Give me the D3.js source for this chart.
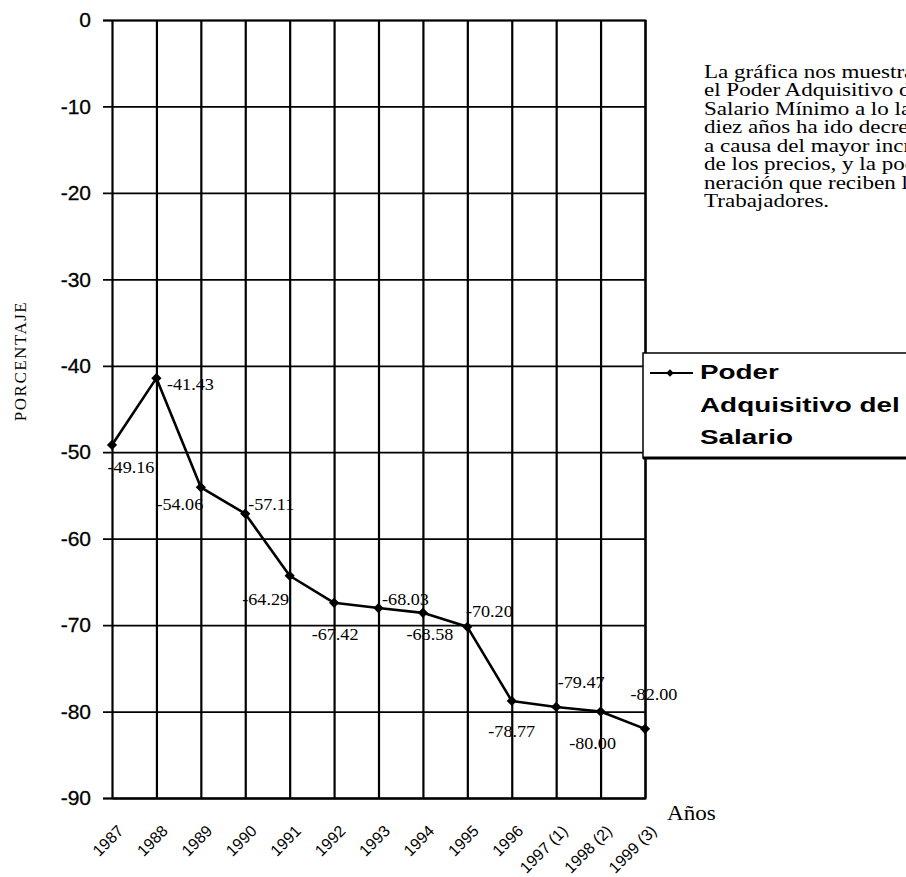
<!DOCTYPE html>
<html><head><meta charset="utf-8">
<script src="https://cdn.jsdelivr.net/npm/d3@7"></script>
<style>body{margin:0;background:#fff}svg{display:block}</style>
</head><body><div id="chart"></div>
<script>
const categories = ["1987","1988","1989","1990","1991","1992","1993","1994","1995","1996","1997 (1)","1998 (2)","1999 (3)"];
const values = [-49.16, -41.43, -54.06, -57.11, -64.29, -67.42, -68.03, -68.58, -70.20, -78.77, -79.47, -80.00, -82.00];
const yTicks = [0, -10, -20, -30, -40, -50, -60, -70, -80, -90];
const seriesNameLines = ["Poder", "Adquisitivo del", "Salario"];
const yTitle = "PORCENTAJE";
const xTitle = "Años";
const noteLines = [
  "La gráfica nos muestra que",
  "el Poder Adquisitivo del",
  "Salario Mínimo a lo largo de",
  "diez años ha ido decreciendo",
  "a causa del mayor incremento",
  "de los precios, y la poca remu-",
  "neración que reciben los",
  "Trabajadores."
];
// label placement (layout only): [dx, dy] from the point
const labelLayout = [[19,28],[34,12],[-21,23],[26,-4],[-24,29],[1,37],[27,-3],[7,27],[22,-10],[0,36],[25,-19],[-8,37],[9,-29]];

const W = 906, H = 877;
const serif = "'Liberation Serif', 'Times New Roman', serif";
const sans = "'Liberation Sans', Arial, sans-serif";
const svg = d3.select("#chart").append("svg").attr("width", W).attr("height", H);
svg.append("rect").attr("width", W).attr("height", H).attr("fill", "#fff");

const x = d3.scalePoint().domain(categories).range([112, 645]);
const y = d3.scaleLinear().domain([-90, 0]).range([798, 20]);

// horizontal grid + y labels
const gy = svg.append("g").attr("transform", "translate(645,0)")
  .call(d3.axisLeft(y).tickValues(yTicks).tickSize(542).tickPadding(12).tickFormat(d => String(d)));
gy.select(".domain").attr("stroke", "#000").attr("stroke-width", 2);
gy.selectAll(".tick line").attr("stroke", "#000").attr("stroke-width", 1.7);
gy.selectAll(".tick text").attr("font-family", sans).attr("font-size", 21).attr("fill", "#000")
  .attr("stroke", "#000").attr("stroke-width", 0.3);

// vertical grid + x labels
const gx = svg.append("g").attr("transform", "translate(0,798)")
  .call(d3.axisBottom(x).tickSize(-778).tickSizeOuter(0));
gx.select(".domain").attr("stroke", "#000").attr("stroke-width", 2);
gx.selectAll(".tick line").attr("stroke", "#000").attr("stroke-width", 2.2);
gx.selectAll(".tick text")
  .attr("x", 0).attr("y", 0).attr("dy", 0)
  .attr("transform", "translate(12,34) rotate(-45)")
  .attr("text-anchor", "end")
  .attr("font-family", sans).attr("font-size", 16).attr("fill", "#000");

// legend box
const lg = svg.append("g");
lg.append("rect").attr("x", 643).attr("y", 353).attr("width", 280).attr("height", 105)
  .attr("fill", "#fff").attr("stroke", "#000").attr("stroke-width", 1.5);
lg.append("line").attr("x1", 643).attr("x2", 906).attr("y1", 458).attr("y2", 458)
  .attr("stroke", "#000").attr("stroke-width", 3);
lg.append("line").attr("x1", 650).attr("x2", 693).attr("y1", 373).attr("y2", 373)
  .attr("stroke", "#000").attr("stroke-width", 2);
lg.append("path").attr("d", d3.symbol(d3.symbolSquare, 28)())
  .attr("transform", "translate(670,373) rotate(45)").attr("fill", "#000");
const legendBase = [379, 412, 444];
seriesNameLines.forEach((t, i) => {
  lg.append("text").attr("transform", `translate(700,${legendBase[i]}) scale(1.36,1)`)
    .attr("font-family", sans).attr("font-weight", "bold").attr("font-size", 20.5).attr("fill", "#000").text(t);
});

// series line
const line = d3.line().x((d, i) => x(categories[i])).y(d => y(d));
svg.append("path").datum(values).attr("d", line)
  .attr("fill", "none").attr("stroke", "#000").attr("stroke-width", 2.6).attr("stroke-linejoin", "round");
svg.selectAll(".mk").data(values).join("path").attr("class", "mk")
  .attr("d", d3.symbol(d3.symbolSquare, 52)())
  .attr("transform", (d, i) => `translate(${x(categories[i])},${y(d)}) rotate(45)`)
  .attr("fill", "#000");

// data labels
const fmt = d3.formatLocale({decimal: ".", thousands: ",", grouping: [3], currency: ["", ""], minus: "-"}).format(".2f");
svg.selectAll(".lbl").data(values).join("text").attr("class", "lbl")
  .attr("transform", (d, i) => `translate(${x(categories[i]) + labelLayout[i][0]},${y(d) + labelLayout[i][1]}) scale(1.1,1)`)
  .attr("text-anchor", "middle")
  .attr("font-family", serif).attr("font-size", 16.5).attr("fill", "#000")
  .text(d => fmt(d));

// axis titles
svg.append("text").attr("transform", "translate(26,361) rotate(-90)")
  .attr("text-anchor", "middle").attr("font-family", serif).attr("font-size", 17)
  .attr("letter-spacing", 1.5).attr("fill", "#000").text(yTitle);
svg.append("text").attr("transform", "translate(667,820) scale(1.1,1)")
  .attr("font-family", serif).attr("font-size", 21).attr("fill", "#000").text(xTitle);

// note text
noteLines.forEach((t, i) => {
  svg.append("text").attr("transform", `translate(704,${78 + i * 18.45}) scale(1.28,1)`)
    .attr("font-family", serif).attr("font-size", 18).attr("fill", "#000").text(t);
});
</script>
</body></html>
